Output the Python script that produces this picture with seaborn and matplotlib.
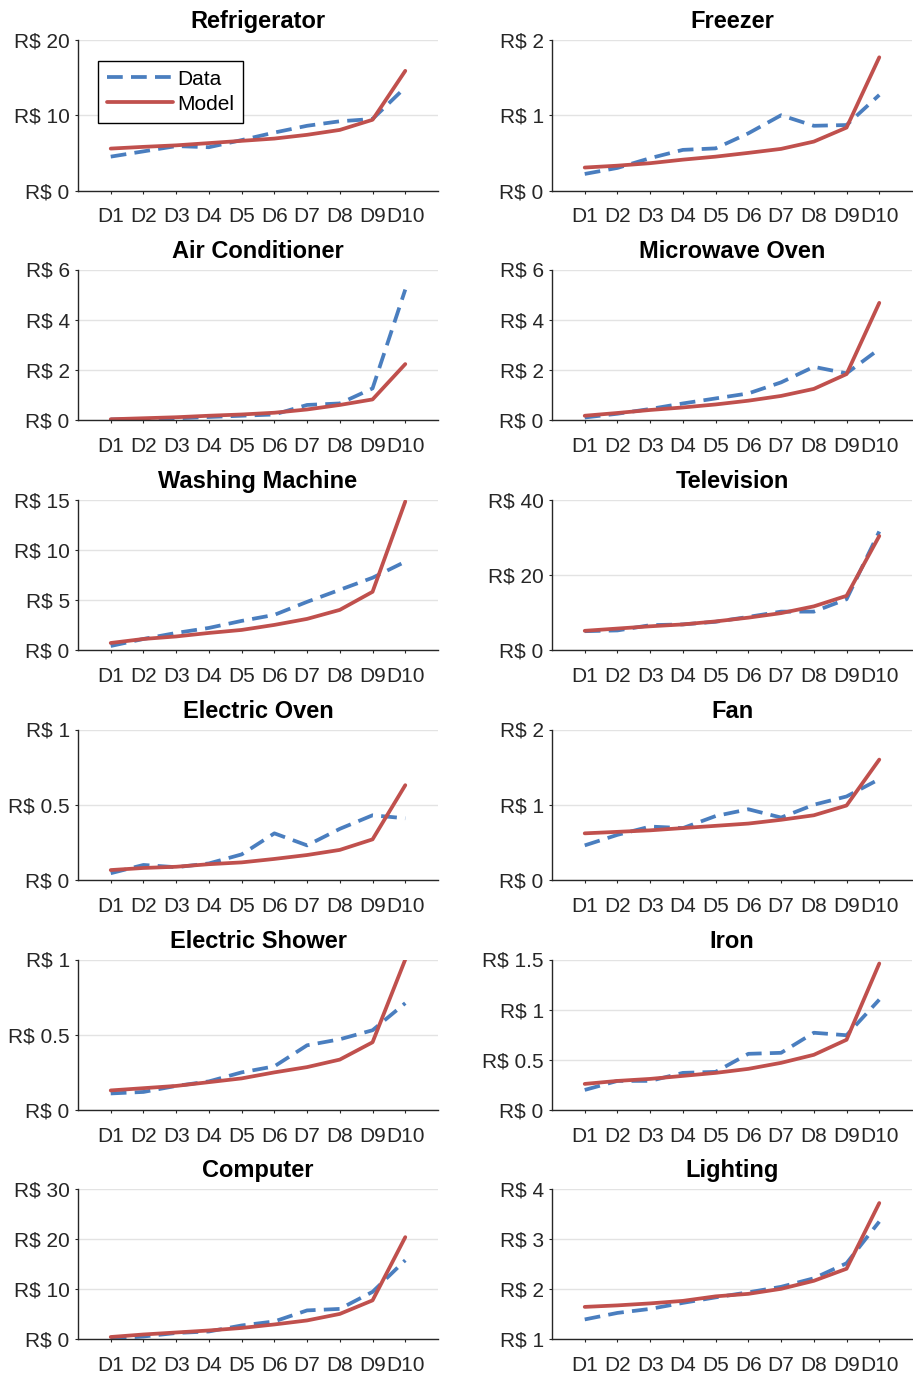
import numpy as np
import pandas as pd
import matplotlib
matplotlib.use("Agg")
import matplotlib.pyplot as plt
import seaborn as sns

# Income deciles
deciles = ["D1", "D2", "D3", "D4", "D5", "D6", "D7", "D8", "D9", "D10"]

# Monthly spending per appliance (R$), observed data vs. model
refrigerator_data = [4.5, 5.2, 5.9, 5.75, 6.7, 7.7, 8.6, 9.2, 9.5, 13.7]
refrigerator_model = [5.57, 5.8, 6.0, 6.3, 6.6, 6.9, 7.4, 8.05, 9.4, 15.9]

freezer_data = [0.22, 0.30, 0.43, 0.54, 0.56, 0.76, 1.0, 0.86, 0.87, 1.27]
freezer_model = [0.305, 0.33, 0.363, 0.41, 0.45, 0.50, 0.553, 0.65, 0.836, 1.77]

aircon_data = [0.02, 0.04, 0.07, 0.12, 0.17, 0.22, 0.60, 0.66, 1.26, 5.2]
aircon_model = [0.03, 0.07, 0.11, 0.17, 0.22, 0.29, 0.42, 0.60, 0.82, 2.23]

microwave_data = [0.10, 0.25, 0.44, 0.66, 0.86, 1.06, 1.50, 2.12, 1.86, 2.83]
microwave_model = [0.17, 0.28, 0.40, 0.50, 0.62, 0.77, 0.96, 1.24, 1.83, 4.67]

washer_data = [0.4, 1.1, 1.7, 2.2, 2.9, 3.5, 4.8, 6.0, 7.2, 8.8]
washer_model = [0.7, 1.1, 1.35, 1.7, 2.0, 2.5, 3.1, 4.0, 5.8, 14.8]

tv_data = [5.0, 5.2, 6.6, 6.8, 7.5, 8.8, 10.2, 10.2, 13.5, 31.5]
tv_model = [5.1, 5.7, 6.3, 6.8, 7.6, 8.6, 9.8, 11.6, 14.4, 30.3]

oven_data = [0.045, 0.10, 0.085, 0.11, 0.17, 0.31, 0.23, 0.34, 0.43, 0.41]
oven_model = [0.066, 0.08, 0.088, 0.105, 0.117, 0.14, 0.166, 0.20, 0.27, 0.63]

fan_data = [0.46, 0.60, 0.71, 0.69, 0.85, 0.94, 0.83, 1.0, 1.11, 1.34]
fan_model = [0.62, 0.64, 0.66, 0.69, 0.72, 0.75, 0.80, 0.86, 0.99, 1.60]

shower_data = [0.11, 0.12, 0.16, 0.19, 0.25, 0.29, 0.43, 0.47, 0.53, 0.71]
shower_model = [0.13, 0.145, 0.16, 0.185, 0.21, 0.25, 0.285, 0.335, 0.45, 1.0]

iron_data = [0.20, 0.29, 0.29, 0.37, 0.38, 0.56, 0.57, 0.77, 0.745, 1.10]
iron_model = [0.26, 0.29, 0.31, 0.34, 0.37, 0.41, 0.47, 0.55, 0.70, 1.46]

computer_data = [0.1, 0.5, 1.2, 1.5, 2.7, 3.5, 5.7, 6.0, 9.4, 15.7]
computer_model = [0.4, 0.9, 1.3, 1.7, 2.2, 2.9, 3.7, 5.0, 7.7, 20.3]

lighting_data = [1.39, 1.52, 1.60, 1.72, 1.83, 1.93, 2.04, 2.21, 2.51, 3.34]
lighting_model = [1.64, 1.67, 1.71, 1.76, 1.85, 1.90, 2.0, 2.16, 2.40, 3.71]

titles = ["Refrigerator", "Freezer", "Air Conditioner", "Microwave Oven",
          "Washing Machine", "Television", "Electric Oven", "Fan",
          "Electric Shower", "Iron", "Computer", "Lighting"]
data_series = [refrigerator_data, freezer_data, aircon_data, microwave_data,
               washer_data, tv_data, oven_data, fan_data,
               shower_data, iron_data, computer_data, lighting_data]
model_series = [refrigerator_model, freezer_model, aircon_model, microwave_model,
                washer_model, tv_model, oven_model, fan_model,
                shower_model, iron_model, computer_model, lighting_model]
y_ticks = [[0, 10, 20], [0, 1, 2], [0, 2, 4, 6], [0, 2, 4, 6],
           [0, 5, 10, 15], [0, 20, 40], [0, 0.5, 1], [0, 1, 2],
           [0, 0.5, 1], [0, 0.5, 1, 1.5], [0, 10, 20, 30], [1, 2, 3, 4]]

sns.set_theme(style="white")
plt.rcParams["font.family"] = ["Liberation Sans", "DejaVu Sans"]

BLUE = "#4a7ebf"
RED = "#c0504d"
AX_COLOR = "#262626"

W, H = 913, 1386
fig = plt.figure(figsize=(W / 100, H / 100), dpi=100)

col_left = [78, 552]
ax_w = 360
row_top = [40, 269.5, 499.5, 729.5, 959.5, 1188.5]
ax_h = 150.5


def fmt(v):
    return f"R$ {v:g}"


xpos = np.arange(1, len(deciles) + 1)

for i, title in enumerate(titles):
    r, c = divmod(i, 2)
    left = col_left[c] / W
    bottom = 1 - (row_top[r] + ax_h) / H
    ax = fig.add_axes([left, bottom, ax_w / W, ax_h / H])

    df = pd.DataFrame({"x": xpos, "Data": data_series[i], "Model": model_series[i]})
    sns.lineplot(data=df, x="x", y="Data", ax=ax, color=BLUE, linewidth=2.7,
                 label="Data", legend=False)
    ax.lines[-1].set_linestyle((0, (4.2, 2.2)))
    sns.lineplot(data=df, x="x", y="Model", ax=ax, color=RED, linewidth=2.7,
                 label="Model", legend=False)

    ticks = y_ticks[i]
    ax.set_ylim(ticks[0], ticks[-1])
    ax.set_yticks(ticks)
    ax.set_yticklabels([fmt(t) for t in ticks])
    ax.set_xlim(0, 11)
    ax.set_xticks(xpos)
    ax.set_xticklabels(deciles)
    ax.set_xlabel("")
    ax.set_ylabel("")

    ax.grid(axis="y", color="#e3e3e3", linewidth=1.0)
    ax.grid(axis="x", visible=False)
    ax.set_axisbelow(True)
    for side in ("top", "right"):
        ax.spines[side].set_visible(False)
    for side in ("left", "bottom"):
        ax.spines[side].set_color(AX_COLOR)
        ax.spines[side].set_linewidth(1.0)

    ax.tick_params(axis="x", direction="out", length=2.5, width=0.8,
                   color=AX_COLOR, labelcolor=AX_COLOR, labelsize=15, pad=9.5,
                   bottom=True)
    ax.tick_params(axis="y", direction="out", length=2.5, width=0.8,
                   color=AX_COLOR, labelcolor=AX_COLOR, labelsize=15, pad=3.5,
                   left=True)

    ax.set_title(title, fontsize=17, fontweight="bold", color="black", pad=8.5)

    if i == 0:
        leg = ax.legend(loc="upper left", bbox_to_anchor=(0.055, 0.862),
                        borderaxespad=0, fontsize=15, handlelength=3.2,
                        handletextpad=0.2, labelspacing=0.3, borderpad=0.42,
                        fancybox=False, framealpha=1, frameon=True)
        leg.get_frame().set_edgecolor("black")
        leg.get_frame().set_linewidth(1.0)
        for t in leg.get_texts():
            t.set_color("black")

fig.savefig("out.png", dpi=100, facecolor="white")
